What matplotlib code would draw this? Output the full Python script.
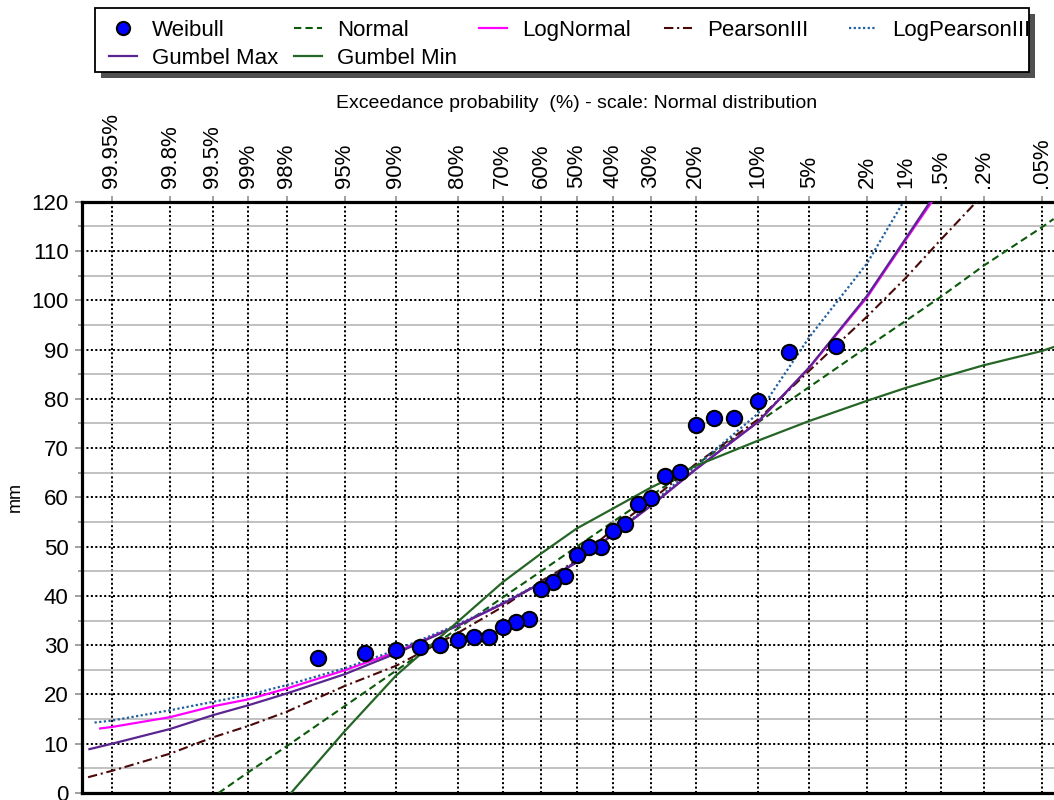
import numpy as np
import matplotlib
matplotlib.use("Agg")
import matplotlib.pyplot as plt
from matplotlib.lines import Line2D
from matplotlib.patches import Rectangle
from statistics import NormalDist

plt.rcParams['font.family'] = ['Liberation Sans', 'DejaVu Sans']

# ---------------------------------------------
# Data (exceedance probability in %, value in mm)
# ---------------------------------------------
tick_pct = [99.95, 99.8, 99.5, 99, 98, 95, 90, 80, 70, 60, 50, 40, 30, 20, 10, 5, 2, 1, 0.5, 0.2, 0.05]
tick_labels = ['99.95%', '99.8%', '99.5%', '99%', '98%', '95%', '90%', '80%', '70%', '60%', '50%',
               '40%', '30%', '20%', '10%', '5%', '2%', '1%', '.5%', '.2%', '.05%']

weibull_p = [3.33, 6.67, 10.0, 13.33, 16.67, 20.0, 23.33, 26.67, 30.0, 33.33, 36.67, 40.0, 43.33, 46.67, 50.0,
             53.33, 56.67, 60.0, 63.33, 66.67, 70.0, 73.33, 76.67, 80.0, 83.33, 86.67, 90.0, 93.33, 96.67]
weibull_v = [90.8, 89.4, 79.5, 76.2, 76.2, 74.7, 65.2, 64.3, 59.9, 58.6, 54.5, 53.2, 49.9, 49.9, 48.3,
             44.1, 42.9, 41.5, 35.4, 34.7, 33.7, 31.7, 31.7, 31.0, 30.0, 29.6, 29.0, 28.5, 27.3]

normal_p = [99.44, 99, 98, 95, 90, 80, 70, 60, 50, 40, 30, 20, 10, 5, 2, 1, 0.5, 0.2, 0.05, 0.037]
normal_v = [0.0, 4.2, 9.5, 17.6, 24.8, 33.4, 39.7, 45.0, 50.0, 55.0, 60.3, 66.6, 75.2, 82.4, 90.5, 95.8,
            100.7, 107.0, 114.8, 116.5]

lognormal_p = [99.963, 99.95, 99.8, 99.5, 99, 98, 95, 90, 80, 70, 60, 50, 40, 30, 20, 10, 5, 2, 1, 0.60]
lognormal_v = [13.1, 13.4, 15.4, 17.6, 19.0, 21.2, 24.9, 28.6, 34.0, 38.4, 42.6, 46.9, 52.5, 58.3, 65.7,
               75.3, 86.3, 100.6, 112.2, 120.0]

pearson3_p = [99.973, 99.95, 99.8, 99.5, 99, 98, 95, 90, 80, 70, 60, 50, 40, 30, 20, 10, 5, 2, 1, 0.5, 0.234]
pearson3_v = [3.2, 4.5, 8.0, 11.3, 13.6, 16.5, 21.7, 25.8, 32.5, 37.8, 43.0, 47.2, 53.5, 59.4, 66.8, 75.8,
              85.7, 96.7, 104.5, 112.3, 120.0]

logpearson3_p = [99.968, 99.95, 99.8, 99.5, 99, 98, 95, 90, 80, 70, 60, 50, 40, 30, 20, 10, 5, 2, 1.04]
logpearson3_v = [14.3, 14.7, 16.8, 18.5, 19.9, 21.9, 25.3, 29.0, 34.2, 38.6, 42.7, 47.0, 52.6, 58.6, 66.3,
                 77.0, 92.5, 107.5, 120.0]

gumbel_max_p = [99.972, 99.95, 99.8, 99.5, 99, 98, 95, 90, 80, 70, 60, 50, 40, 30, 20, 10, 5, 2, 1, 0.62]
gumbel_max_v = [8.9, 10.0, 13.0, 15.8, 17.8, 20.2, 24.1, 28.3, 34.0, 38.4, 42.6, 46.8, 52.4, 58.3, 65.7,
                75.3, 86.4, 100.9, 112.5, 120.0]

gumbel_min_p = [97.85, 95, 90, 80, 70, 60, 50, 40, 30, 20, 10, 5, 2, 1, 0.5, 0.2, 0.05, 0.037]
gumbel_min_v = [0.0, 12.5, 23.8, 34.8, 42.8, 48.6, 53.7, 57.7, 62.0, 66.4, 71.5, 75.5, 79.6, 82.2, 84.3,
                86.8, 89.7, 90.5]

# ---------------------------------------------
# Helpers
# ---------------------------------------------
nd = NormalDist()


def zscore(p_pct):
    """Exceedance probability (%) -> standard normal variate."""
    return np.array([nd.inv_cdf(1.0 - p / 100.0) for p in p_pct])


W, H = 1054, 800
fig = plt.figure(figsize=(W / 100, H / 100), dpi=100)

# axes runs a little past the right border of the figure
ax = fig.add_axes([82.4 / W, 7 / H, 989 / W, 591.3 / H])
ax.set_xlim(-3.5, 3.5)
ax.set_ylim(0, 120)

styles = {
    "Normal": dict(color="#0b5a0b", lw=1.5, ls=(0, (3.5, 2))),
    "LogNormal": dict(color="#ff00ff", lw=1.6, ls="-"),
    "PearsonIII": dict(color="#4a0808", lw=1.5, ls=(0, (4.5, 1.8, 1, 1.8))),
    "LogPearsonIII": dict(color="#1f5f9f", lw=1.6, ls=(0, (1, 1.1))),
    "Gumbel Max": dict(color="#5a2590", lw=1.6, ls="-"),
    "Gumbel Min": dict(color="#256525", lw=1.6, ls="-"),
}
curves = {
    "Normal": (normal_p, normal_v),
    "LogNormal": (lognormal_p, lognormal_v),
    "PearsonIII": (pearson3_p, pearson3_v),
    "LogPearsonIII": (logpearson3_p, logpearson3_v),
    "Gumbel Max": (gumbel_max_p, gumbel_max_v),
    "Gumbel Min": (gumbel_min_p, gumbel_min_v),
}

for name, (p, v) in curves.items():
    ax.plot(zscore(p), v, zorder=3, **styles[name])

weibull_style = dict(marker="o", ls="none", mfc="#0000ff", mec="black", mew=1.5)
ax.plot(zscore(weibull_p), weibull_v, ms=11, zorder=5, **weibull_style)

# ---------------------------------------------
# Axes, ticks, grid
# ---------------------------------------------
for side in ["left", "top", "bottom"]:
    ax.spines[side].set_linewidth(2.3)
    ax.spines[side].set_color("black")
ax.spines["right"].set_visible(False)

ax.xaxis.tick_top()
ax.set_xticks(zscore(tick_pct))
ax.set_xticklabels(tick_labels, rotation=90, fontsize=16)
ax.tick_params(axis="x", which="major", direction="out", length=4, width=1.2, color="#909090", pad=6)

ax.set_yticks(np.arange(0, 121, 10))
ax.set_yticks(np.arange(5, 120, 10), minor=True)
ax.tick_params(axis="y", which="major", direction="out", length=5, width=1.2, color="#909090",
               labelsize=16, pad=5)
ax.tick_params(axis="y", which="minor", direction="out", length=3, width=1.2, color="#909090")

ax.set_axisbelow(True)
ax.xaxis.grid(True, which="major", color="black", lw=1.45, ls=(0, (1, 1.2)))
ax.yaxis.grid(True, which="major", color="black", lw=1.45, ls=(0, (1, 1.2)))
ax.yaxis.grid(True, which="minor", color="#b0b0b0", lw=1.1, ls="-")

ax.set_ylabel("mm", fontsize=13, va="center")
ax.yaxis.set_label_coords(-0.068, 0.5)

fig.text(577 / W, 1 - 104 / H, "Exceedance probability  (%) - scale: Normal distribution",
         ha="center", va="center", fontsize=14)

# ---------------------------------------------
# Legend box with drop shadow
# ---------------------------------------------
bx0, by0, bx1, by1 = 95, 8, 1029, 72
fig.patches.append(Rectangle(((bx0 + 6) / W, 1 - (by1 + 6) / H), (bx1 - bx0) / W, (by1 - by0) / H,
                             transform=fig.transFigure, facecolor="#505050", edgecolor="none", zorder=1))
fig.patches.append(Rectangle((bx0 / W, 1 - by1 / H), (bx1 - bx0) / W, (by1 - by0) / H,
                             transform=fig.transFigure, facecolor="white", edgecolor="black",
                             lw=1.3, zorder=2))

entries = [("Weibull", 0, 0), ("Normal", 0, 1), ("LogNormal", 0, 2), ("PearsonIII", 0, 3),
           ("LogPearsonIII", 0, 4), ("Gumbel Max", 1, 0), ("Gumbel Min", 1, 1)]
row_y = [28, 56]
col_x = [152, 337, 522, 707, 892]
for name, r, c in entries:
    ty = 1 - row_y[r] / H
    tx = col_x[c]
    if name == "Weibull":
        fig.lines.append(Line2D([(tx - 29) / W], [ty], transform=fig.transFigure, ms=9.5,
                                zorder=3, **weibull_style))
    else:
        fig.lines.append(Line2D([(tx - 43) / W, (tx - 15) / W], [ty, ty], transform=fig.transFigure,
                                zorder=3, **styles[name]))
    fig.text(tx / W, ty, name, ha="left", va="center_baseline", fontsize=16, zorder=3)

fig.savefig("out.png", dpi=100)
